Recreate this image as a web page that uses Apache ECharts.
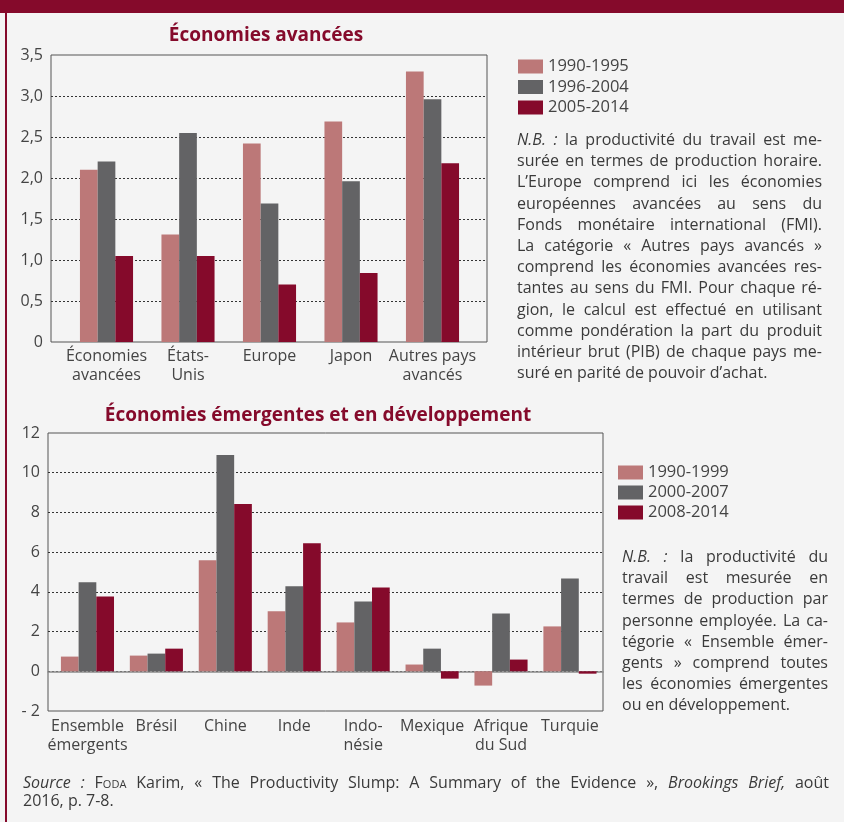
<!DOCTYPE html>
<html>
<head>
<meta charset="utf-8">
<script src="https://cdn.jsdelivr.net/npm/echarts@6/dist/echarts.min.js"></script>
<style>
body{margin:0;background:#f4f4f4;}
#page{position:relative;width:844px;height:822px;overflow:hidden;background:#f4f4f4;}
#band{position:absolute;left:0;top:0;width:844px;height:13px;background:#850a2b;}
#edge{position:absolute;left:5px;top:0;width:2px;height:822px;background:#850a2b;}
#chart{position:absolute;left:0;top:0;width:844px;height:822px;}
.note{position:absolute;font-family:'Open Sans',sans-serif;font-size:16px;line-height:21.2px;color:#3a3a3a;}
.note span{display:block;text-align:justify;text-align-last:justify;}
.note span.last{text-align-last:left;}
.sc{font-variant:small-caps;}
</style>
</head>
<body>
<div id="page">
  <div id="chart"></div>
  <div id="band"></div>
  <div id="edge"></div>
  <div class="note" id="note1" style="left:517px;top:129px;width:305px;">
    <span><i>N.B. :</i> la productivité du travail est me-</span>
    <span>surée en termes de production horaire.</span>
    <span>L’Europe comprend ici les économies</span>
    <span>européennes avancées au sens du</span>
    <span>Fonds monétaire international (FMI).</span>
    <span>La catégorie « Autres pays avancés »</span>
    <span>comprend les économies avancées res-</span>
    <span>tantes au sens du FMI. Pour chaque ré-</span>
    <span>gion, le calcul est effectué en utilisant</span>
    <span>comme pondération la part du produit</span>
    <span>intérieur brut (PIB) de chaque pays me-</span>
    <span class="last">suré en parité de pouvoir d’achat.</span>
  </div>
  <div class="note" id="note2" style="left:622px;top:546px;width:206px;">
    <span><i>N.B. :</i> la productivité du</span>
    <span>travail est mesurée en</span>
    <span>termes de production par</span>
    <span>personne employée. La ca-</span>
    <span>tégorie « Ensemble émer-</span>
    <span>gents » comprend toutes</span>
    <span>les économies émergentes</span>
    <span class="last">ou en développement.</span>
  </div>
  <div class="note" id="source" style="left:23px;top:773px;width:806px;line-height:18px;">
    <span><i>Source :</i> F<span class="sc" style="display:inline">oda</span> Karim, « The Productivity Slump: A Summary of the Evidence », <i>Brookings Brief,</i> août</span>
    <span class="last">2016, p. 7-8.</span>
  </div>
</div>
<script>
var fontFamily = "'Open Sans', 'Noto Sans', sans-serif";

// Économies avancées
var topCats = ['Économies\navancées', 'États-\nUnis', 'Europe', 'Japon', 'Autres pays\navancés'];
var topPeriods = ['1990-1995', '1996-2004', '2005-2014'];
var top1990 = [2.1, 1.31, 2.42, 2.69, 3.3];
var top1996 = [2.2, 2.55, 1.69, 1.96, 2.96];
var top2005 = [1.05, 1.05, 0.7, 0.84, 2.18];

// Économies émergentes et en développement
var botCats = ['Ensemble\némergents', 'Brésil', 'Chine', 'Inde', 'Indo-\nnésie', 'Mexique', 'Afrique\ndu Sud', 'Turquie'];
var botPeriods = ['1990-1999', '2000-2007', '2008-2014'];
var bot1990 = [0.74, 0.79, 5.59, 3.02, 2.46, 0.34, -0.72, 2.26];
var bot2000 = [4.48, 0.89, 10.89, 4.28, 3.52, 1.14, 2.91, 4.67];
var bot2008 = [3.77, 1.14, 8.42, 6.45, 4.22, -0.37, 0.59, -0.12];

var colors = ['#bc7878', '#636365', '#850a2b'];
var textColor = '#444';

var chart = echarts.init(document.getElementById('chart'));

function barSeries(name, data, axisIdx, color) {
	return {
		name: name,
		type: 'bar',
		xAxisIndex: axisIdx,
		yAxisIndex: axisIdx,
		data: data,
		barWidth: 17.7,
		barGap: '0%',
		itemStyle: {color: color}
	};
}

var dotted = {color: '#333', type: [2, 2], width: 1};
var frame = {show: true, borderColor: '#555', borderWidth: 1, backgroundColor: 'transparent'};

var option = {
	animation: false,
	textStyle: {fontFamily: fontFamily},
	title: [
		{
			text: 'Économies avancées',
			left: 261, top: 21, textAlign: 'center',
			textStyle: {color: '#850a2b', fontSize: 19, fontWeight: 'bold', fontFamily: fontFamily}
		},
		{
			text: 'Économies émergentes et en développement',
			left: 313, top: 401, textAlign: 'center',
			textStyle: {color: '#850a2b', fontSize: 19, fontWeight: 'bold', fontFamily: fontFamily}
		}
	],
	legend: [
		{
			data: topPeriods, left: 518, top: 58, orient: 'vertical', padding: 0,
			itemWidth: 25, itemHeight: 14, itemGap: 3.5, icon: 'rect',
			textStyle: {fontSize: 16.5, color: textColor}
		},
		{
			data: botPeriods, left: 618, top: 464, orient: 'vertical', padding: 0,
			itemWidth: 25, itemHeight: 14, itemGap: 3, icon: 'rect',
			textStyle: {fontSize: 16.5, color: textColor}
		}
	],
	grid: [
		Object.assign({left: 51, top: 55, width: 436, height: 287}, frame),
		{left: 65.75, top: 55, width: 407.5, height: 287},
		Object.assign({left: 48, top: 433, width: 555, height: 278}, frame),
		{left: 53, top: 433, width: 551.4, height: 278}
	],
	xAxis: [
		{gridIndex: 0, type: 'value', min: 0, max: 1, show: false},
		{
			gridIndex: 1, type: 'category', data: topCats,
			axisLine: {show: false}, axisTick: {show: false},
			axisLabel: {interval: 0, margin: 5, fontSize: 16, lineHeight: 19, color: textColor}
		},
		{
			gridIndex: 2, type: 'value', min: 0, max: 1,
			axisLine: {show: true, onZero: true, lineStyle: {color: '#8a8a8a', width: 1.5}},
			axisTick: {show: false}, axisLabel: {show: false}, splitLine: {show: false}
		},
		{
			gridIndex: 3, type: 'category', data: botCats,
			axisLine: {show: false}, axisTick: {show: false},
			axisLabel: {interval: 0, margin: 6, fontSize: 16, lineHeight: 19, color: textColor}
		}
	],
	yAxis: [
		{
			gridIndex: 0, type: 'value', min: 0, max: 3.5, interval: 0.5,
			axisLine: {show: false}, axisTick: {show: false},
			axisLabel: {
				margin: 8, fontSize: 16, color: textColor,
				formatter: function (v) { return v === 0 ? '0' : v.toFixed(1).replace('.', ','); }
			},
			splitLine: {show: true, showMinLine: false, showMaxLine: false, lineStyle: dotted}
		},
		{gridIndex: 1, type: 'value', min: 0, max: 3.5, show: false},
		{
			gridIndex: 2, type: 'value', min: -2, max: 12, interval: 2,
			axisLine: {show: false}, axisTick: {show: false},
			axisLabel: {
				margin: 8, fontSize: 16, color: textColor,
				formatter: function (v) { return v < 0 ? '- ' + Math.abs(v) : String(v); }
			},
			splitLine: {show: true, showMinLine: false, showMaxLine: false, lineStyle: dotted}
		},
		{gridIndex: 3, type: 'value', min: -2, max: 12, show: false}
	],
	series: [
		barSeries(topPeriods[0], top1990, 1, colors[0]),
		barSeries(topPeriods[1], top1996, 1, colors[1]),
		barSeries(topPeriods[2], top2005, 1, colors[2]),
		barSeries(botPeriods[0], bot1990, 3, colors[0]),
		barSeries(botPeriods[1], bot2000, 3, colors[1]),
		barSeries(botPeriods[2], bot2008, 3, colors[2])
	]
};

chart.setOption(option);
</script>
</body>
</html>
